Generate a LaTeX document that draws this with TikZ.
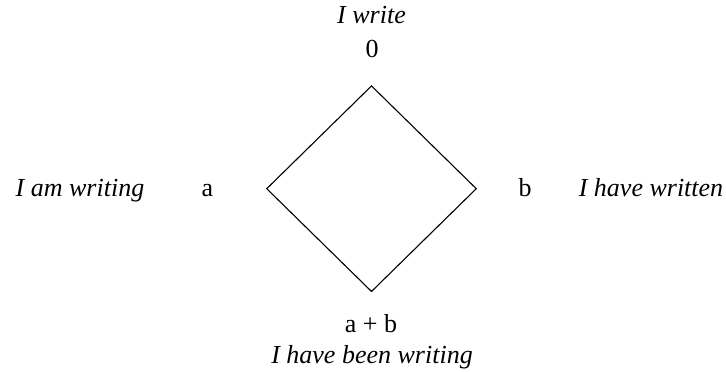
\documentclass[tikz,border=0pt]{standalone}
\usepackage{fontspec}
\setmainfont{Liberation Serif}
\usetikzlibrary{shapes.geometric}
\begin{document}
\begin{tikzpicture}[x=1pt,y=1pt,
  lbl/.style={font=\fontsize{26}{30}\selectfont, inner sep=0pt, anchor=base},
  ital/.style={lbl, font=\fontsize{26}{30}\selectfont\itshape}]
\useasboundingbox (0,0) rectangle (726,372);
\node[draw, diamond, line width=1.1pt, minimum width=210pt, minimum height=206pt, inner sep=0pt] (d) at (371.5,183.3) {};
\node[ital] (tw) at (371.5,348) {I write};
\node[lbl] (t0) at (372,314) {0};
\node[ital] (lw) at (80,175) {I am writing};
\node[lbl] (la) at (207.5,175) {a};
\node[lbl] (rb) at (525,175) {b};
\node[ital] (rw) at (651,175) {I have written};
\node[lbl] (bab) at (371,39) {a + b};
\node[ital] (bw) at (372,8) {I have been writing};
\end{tikzpicture}
\end{document}
